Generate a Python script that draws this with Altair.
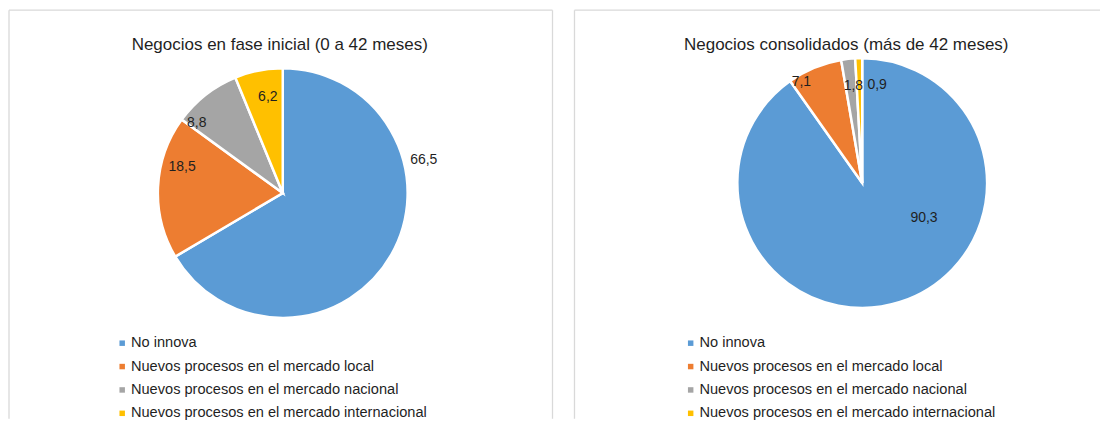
import altair as alt
import pandas as pd

# ---- data ----
categorias = [
    "No innova",
    "Nuevos procesos en el mercado local",
    "Nuevos procesos en el mercado nacional",
    "Nuevos procesos en el mercado internacional",
]
fase_inicial = [66.5, 18.5, 8.8, 6.2]
consolidados = [90.3, 7.1, 1.8, 0.9]
titulo_inicial = "Negocios en fase inicial (0 a 42 meses)"
titulo_consolidados = "Negocios consolidados (más de 42 meses)"

# ---- styling / label placement (Excel "best fit" look) ----
colores = ["#5B9BD5", "#ED7D31", "#A5A5A5", "#FFC000"]
nudge_inicial = [-42.9, 11.7, -12.7, 2.3]      # degrees away from slice middle
radio_lab_inicial = [145, 104, 111, 97]         # px from centre
nudge_consol = [-43.0, -8.6, 1.3, 10.3]
radio_lab_consol = [71, 118, 98, 99]

FONT = "Liberation Sans"
TXT = "#1f1f1f"
FRAME = "#D9D9D9"
H = 411


def panel(valores, nudges, radios, titulo, width, cx, cy, tx, legx, frame_rules):
    df = pd.DataFrame({
        "categoria": categorias,
        "v": valores,
        "orden": list(range(len(categorias))),
        "nudge": nudges,
        "lr": radios,
    })
    total = float(sum(valores))
    theta_scale = alt.Scale(domain=[0, total])
    color = alt.Color(
        "categoria:N",
        scale=alt.Scale(domain=categorias, range=colores),
        legend=alt.Legend(
            orient="none", legendX=legx, legendY=328, title=None,
            symbolType="square", symbolSize=30, symbolStrokeWidth=0,
            labelFont=FONT, labelFontSize=14.6, labelColor=TXT,
            labelOffset=1.5, rowPadding=8.4, padding=0, labelLimit=400,
        ),
    )
    base = alt.Chart(df)
    arcs = base.mark_arc(outerRadius=125, stroke="white", strokeWidth=2.5).encode(
        theta=alt.Theta("v:Q", stack=True, scale=theta_scale),
        color=color,
        order=alt.Order("orden:Q"),
        x=alt.value(cx),
        y=alt.value(cy),
    )
    labels = base.transform_window(
        cum="sum(v)", sort=[alt.SortField("orden")], frame=[None, 0]
    ).transform_joinaggregate(
        total="sum(v)"
    ).transform_calculate(
        lab="datum.cum - datum.v / 2 + datum.nudge / 360 * datum.total",
        txt="replace(format(datum.v, '.1f'), '.', ',')",
    ).mark_text(
        font=FONT, fontSize=14, color=TXT, align="center", baseline="middle"
    ).encode(
        theta=alt.Theta("lab:Q", scale=theta_scale, stack=None),
        radius=alt.Radius("lr:Q", scale=None),
        text="txt:N",
        x=alt.value(cx),
        y=alt.value(cy),
    )
    title = alt.Chart(pd.DataFrame({"t": [titulo]})).mark_text(
        font=FONT, fontSize=17, color=TXT, align="center", baseline="alphabetic"
    ).encode(text="t:N", x=alt.value(tx), y=alt.value(41.5))
    rules = alt.Chart(pd.DataFrame(frame_rules)).mark_rule(
        color=FRAME, strokeWidth=1.3
    ).encode(
        x=alt.X("x1:Q", scale=None), x2="x2:Q",
        y=alt.Y("y1:Q", scale=None), y2="y2:Q",
    )
    return alt.layer(rules, arcs, labels, title).properties(width=width, height=H)


W1, W2 = 555, 538
p1 = panel(
    fase_inicial, nudge_inicial, radio_lab_inicial, titulo_inicial,
    W1, 275, 185, 272, 107,
    {"x1": [1, 1, 545], "x2": [1, 545, 545], "y1": [2, 2, 2], "y2": [H, 2, H]},
)
p2 = panel(
    consolidados, nudge_consol, radio_lab_consol, titulo_consolidados,
    W2, 300, 175, 284, 121,
    {"x1": [12, 12], "x2": [12, W2], "y1": [2, 2], "y2": [H, 2]},
)

chart = alt.hconcat(p1, p2, spacing=0).resolve_scale(
    color="independent", theta="independent", radius="independent"
).resolve_legend(color="independent").properties(
    padding=0, background="white"
).configure_view(stroke=None)

chart.save("out.html", embed_options={"renderer": "svg", "actions": False})
